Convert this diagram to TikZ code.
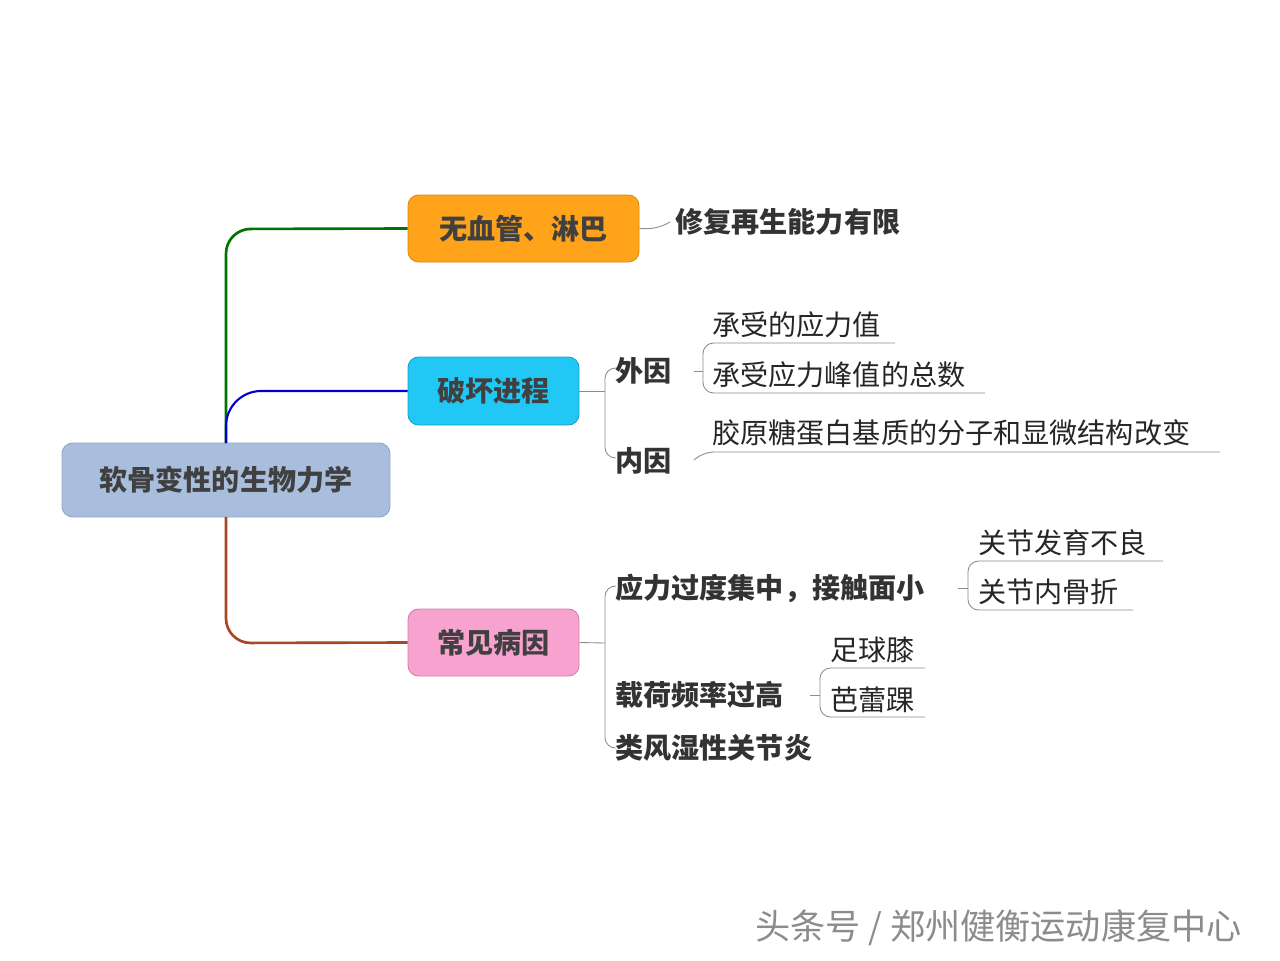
\documentclass[tikz,border=0pt]{standalone}
\usepackage{fontspec}
\setmainfont{Noto Sans CJK SC}
\definecolor{rootf}{HTML}{A9BEDD}
\definecolor{rootd}{HTML}{8FA6C8}
\definecolor{orf}{HTML}{FFA31A}
\definecolor{ord}{HTML}{D98A10}
\definecolor{cyf}{HTML}{22C8F5}
\definecolor{cyd}{HTML}{1AA0C8}
\definecolor{pkf}{HTML}{F7A2CF}
\definecolor{pkd}{HTML}{D080A8}
\begin{document}
\begin{tikzpicture}[x=0.02cm,y=-0.02cm,
 box/.style={draw=#1,rounded corners=6pt,font=\fontsize{16}{19}\selectfont\bfseries,text=black!75,line width=0.5pt},
 bt/.style={anchor=west,inner sep=0pt,font=\fontsize{16}{19}\selectfont\bfseries,text=black!80},
 nt/.style={anchor=west,inner sep=0pt,font=\fontsize{16}{19}\selectfont,text=black!85},
 thin/.style={draw=black!45,line width=0.5pt,rounded corners=6pt}]
\useasboundingbox (0,0) rectangle (1280,960);
\node[box=rootd, fill=rootf, minimum width=328*0.02cm, minimum height=74*0.02cm] (root) at (226,480) {软骨变性的生物力学};
\node[box=ord, fill=orf, minimum width=231*0.02cm, minimum height=67*0.02cm] (b1) at (523.5,228.5) {无血管、淋巴};
\node[box=cyd, fill=cyf, minimum width=171*0.02cm, minimum height=68*0.02cm] (b2) at (493.5,391) {破坏进程};
\node[box=pkd, fill=pkf, minimum width=171*0.02cm, minimum height=67*0.02cm] (b3) at (493.5,642.5) {常见病因};
\draw[green!45!black,line width=1.5pt,rounded corners=14pt] (226,443) -- (226,229) -- (b1.west);
\draw[blue!80!black,line width=1.2pt,rounded corners=20pt] (226,443) -- (226,391) -- (b2.west);
\draw[brown!70!red!80!black,line width=1.5pt,rounded corners=14pt] (226,517) -- (226,643) -- (b3.west);
\node[bt] (c1) at (675,222) {修复再生能力有限};
\draw[thin] (b1.east) -- (657,229) -- (670,222);
\node[bt] (w) at (615,371) {外因};
\node[bt] (n) at (615,461) {内因};
\draw[thin] (b2.east) -- (605,391);
\draw[thin] (615,368) -- (605,368) -- (605,458) -- (615,458);
\node[nt] (s1) at (712,325) {承受的应力值};
\node[nt] (s2) at (712,375) {承受应力峰值的总数};
\node[nt] (s3) at (712,433) {胶原糖蛋白基质的分子和显微结构改变};
\draw[thin] (895,343) -- (703,343) -- (703,393) -- (985,393);
\draw[thin] (694,371) -- (703,371);
\draw[thin] (694,460) -- (703,452) -- (1220,452);
\draw[thin] (b3.east) -- (605,643);
\draw[thin] (615,586) -- (605,586) -- (605,748) -- (615,748);
\node[bt] (k1) at (615,588) {应力过度集中，接触面小};
\node[bt] (k2) at (615,695) {载荷频率过高};
\node[bt] (k3) at (615,748) {类风湿性关节炎};
\node[nt] (g1) at (978,543) {关节发育不良};
\node[nt] (g2) at (978,592) {关节内骨折};
\draw[thin] (1163,561) -- (968,561) -- (968,610) -- (1133,610);
\draw[thin] (958,588) -- (968,588);
\node[nt] (f1) at (830,650) {足球膝};
\node[nt] (f2) at (830,700) {芭蕾踝};
\draw[thin] (925,668) -- (820,668) -- (820,717) -- (925,717);
\draw[thin] (810,695) -- (820,695);
\node[anchor=west,inner sep=0pt,font=\fontsize{20}{23}\selectfont,text=black!45] (wm) at (755,928) {头条号 / 郑州健衡运动康复中心};
\end{tikzpicture}
\end{document}
